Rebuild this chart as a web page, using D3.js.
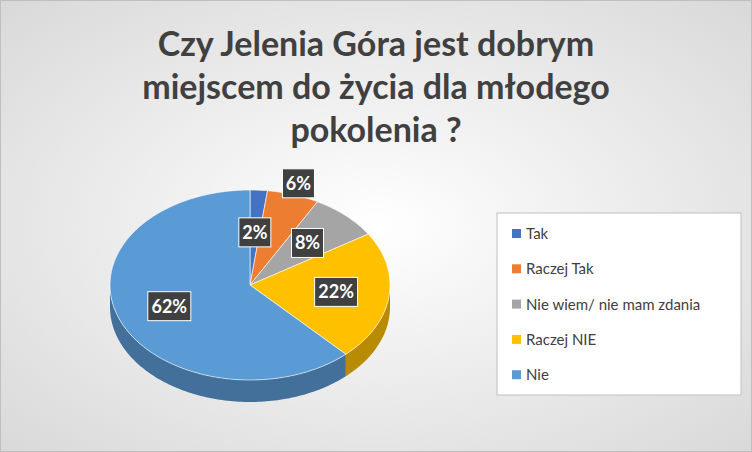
<!DOCTYPE html>
<html><head><meta charset="utf-8">
<script src="https://cdn.jsdelivr.net/npm/d3@7"></script>
<style>body{margin:0;background:#fff}svg{display:block}</style>
</head><body>
<svg id="chart" width="752" height="452"></svg>
<script>
"use strict";

// dane z wykresu
const categories = ["Tak", "Raczej Tak", "Nie wiem/ nie mam zdania", "Raczej NIE", "Nie"];
const values = [2, 6, 8, 22, 62];
const colors = ["#4472C4", "#ED7D31", "#A5A5A5", "#FFC000", "#5B9BD5"];
const labelRadius = [0.55, 1.12, 0.6, 0.62, 0.62];
const titleLines = ["Czy Jelenia Góra jest dobrym", "miejscem do życia dla młodego", "pokolenia ?"];

const W = 752, H = 452;
const svg = d3.select("#chart");
const cx = 250, cy = 285, rx = 140, ry = 95, depth = 22;

const defs = svg.append("defs");
const bg = defs.append("radialGradient").attr("id", "bg").attr("cx", "50%").attr("cy", "50%").attr("r", "70%");
bg.append("stop").attr("offset", "0%").attr("stop-color", "#ffffff");
bg.append("stop").attr("offset", "100%").attr("stop-color", "#d9d9d9");
svg.append("rect").attr("x", 0.5).attr("y", 0.5).attr("width", W - 1).attr("height", H - 1)
  .attr("fill", "url(#bg)").attr("stroke", "#bfbfbf");

// titre
svg.append("g").selectAll("text").data(titleLines).enter().append("text")
  .attr("x", 376).attr("y", (d, i) => 56 + i * 43)
  .attr("text-anchor", "middle")
  .style("font-family", "Lato, 'Open Sans', sans-serif").style("font-weight", "bold")
  .style("font-size", "34px").attr("fill", "#404040")
  .text(d => d);

const pie = d3.pie().sort(null).value(d => d)(values);
const pt = (a, dy) => [cx + rx * Math.sin(a), cy - ry * Math.cos(a) + (dy || 0)];

function topPath(d) {
  const n = Math.max(2, Math.ceil((d.endAngle - d.startAngle) / 0.02));
  const pts = d3.range(n + 1).map(i => pt(d.startAngle + (d.endAngle - d.startAngle) * i / n));
  return "M" + cx + "," + cy + "L" + pts.map(p => p.join(",")).join("L") + "Z";
}
function sidePath(d) {
  const a0 = Math.max(d.startAngle, Math.PI / 2), a1 = Math.min(d.endAngle, 3 * Math.PI / 2);
  if (a1 <= a0) return null;
  const n = Math.ceil((a1 - a0) / 0.02);
  const top = d3.range(n + 1).map(i => pt(a0 + (a1 - a0) * i / n));
  const bot = top.slice().reverse().map(p => [p[0], p[1] + depth]);
  return "M" + top.concat(bot).map(p => p.join(",")).join("L") + "Z";
}

const g = svg.append("g");
g.selectAll("path.side").data(pie.filter(d => sidePath(d) !== null)).enter().append("path")
  .attr("d", sidePath)
  .attr("fill", d => d3.color(colors[d.index]).darker(0.9));
g.selectAll("path.top").data(pie).enter().append("path")
  .attr("d", topPath)
  .attr("fill", d => colors[d.index])
  .attr("stroke", "#ffffff").attr("stroke-width", 0.6);

// etykiety
const lab = svg.append("g");
pie.forEach((d, i) => {
  const a = (d.startAngle + d.endAngle) / 2;
  const x = cx + rx * labelRadius[i] * Math.sin(a);
  const y = cy - ry * labelRadius[i] * Math.cos(a);
  const txt = values[i] + "%";
  const w = txt.length * 11 + 10;
  lab.append("rect").attr("x", x - w / 2).attr("y", y - 15).attr("width", w).attr("height", 29)
    .attr("fill", "#404040").attr("stroke", "#ffffff").attr("stroke-width", 1);
  lab.append("text").attr("x", x).attr("y", y + 6).attr("text-anchor", "middle")
    .style("font-family", "Lato, 'Open Sans', sans-serif").style("font-weight", "bold")
    .style("font-size", "18px").attr("fill", "#ffffff").text(txt);
});

// légende
const legend = svg.append("g");
legend.append("rect").attr("x", 497).attr("y", 213).attr("width", 244).attr("height", 182)
  .attr("fill", "#ffffff").attr("stroke", "#bfbfbf");
legend.selectAll("rect.sw").data(categories).enter().append("rect")
  .attr("x", 512).attr("y", (d, i) => 229 + i * 35.3)
  .attr("width", 9).attr("height", 9)
  .attr("fill", (d, i) => colors[i]);
legend.selectAll("text").data(categories).enter().append("text")
  .attr("x", 526).attr("y", (d, i) => 239 + i * 35.3)
  .style("font-family", "Lato, 'Open Sans', sans-serif").style("font-size", "15px")
  .attr("fill", "#404040").text(d => d);
</script>
</body></html>
